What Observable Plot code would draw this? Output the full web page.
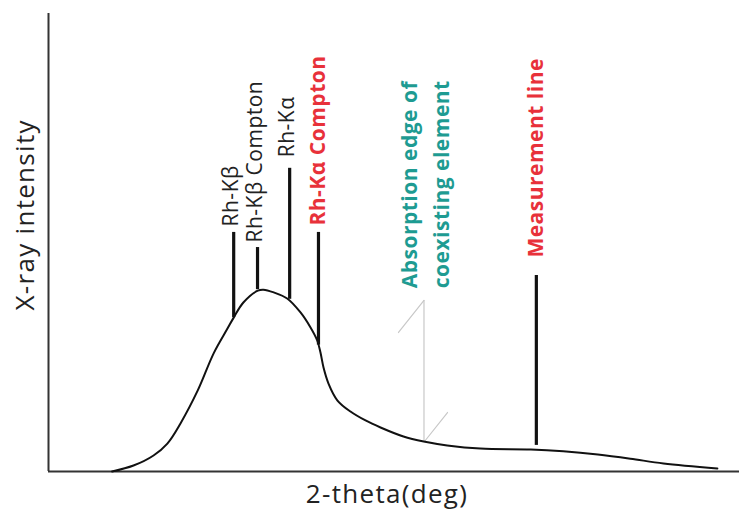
<!DOCTYPE html>
<html>
<head>
<meta charset="utf-8">
<script src="https://cdn.jsdelivr.net/npm/d3@7"></script>
<script src="https://cdn.jsdelivr.net/npm/@observablehq/plot@0.6"></script>
<style>
  html, body { margin: 0; padding: 0; background: #fff; }
  #chart svg { display: block; }
</style>
</head>
<body>
<div id="chart"></div>
<script>
// Background spectrum (2θ in arbitrary units, intensity in arbitrary units)
const curveTheta = [9.2, 12.3, 15.2, 17.2, 19.1, 21.6, 23.9, 25.9, 26.8, 28.2, 30.3, 31.1, 32.6, 34.54, 36.47, 37.92, 38.89, 39.36, 39.8, 40.52, 41.82, 43.7, 45.88, 48.05, 51.37, 54.3, 57.7, 62.5, 69.8, 74.5, 79.5, 84.2, 89.0, 96.8];
const curveIntensity = [0, 1.3, 3.5, 6.1, 10.5, 17.7, 25.8, 31.2, 33.6, 36.9, 39.5, 39.7, 39.1, 37.77, 34.72, 31.44, 28.6, 25.98, 22.71, 19.21, 15.5, 13.1, 11.14, 9.61, 7.64, 6.55, 5.7, 5.0, 4.8, 4.4, 3.7, 2.8, 1.75, 0.66];

// Peak lines
const peakNames = ["Rh-Kβ", "Rh-Kβ Compton", "Rh-Kα", "Rh-Kα Compton", "Measurement line"];
const peakTheta = [26.8, 30.25, 34.9, 39.07, 70.6];
const peakBase = [33.6, 39.7, 37.6, 27.6, 5.7];
const peakTop = [52.2, 48.9, 66.2, 52.2, 42.8];
const labelBase = [53.5, 50.0, 68.6, 53.7, 46.7];
const labelKind = ["plain", "plain", "plain", "highlight", "highlight"];

// Absorption edge
const edgeTheta = [54.34];
const edgeLow = [6.55];
const edgeHigh = [37.34];
const edgeTickA = [[50.65, 30.35], [54.34, 37.34]];
const edgeTickB = [[54.41, 6.55], [57.74, 12.88]];
const edgeLabels = ["Absorption edge of", "coexisting element"];
const edgeLabelTheta = [52.4, 57.0];
const edgeLabelBase = [40.0, 40.0];

const curve = curveTheta.map((x, i) => ({x, y: curveIntensity[i]}));
const peaks = peakNames.map((name, i) => ({name, x: peakTheta[i], y1: peakBase[i], y2: peakTop[i], ly: labelBase[i], kind: labelKind[i]}));
const edgeText = edgeLabels.map((t, i) => ({t, x: edgeLabelTheta[i], y: edgeLabelBase[i]}));

const font = "'Open Sans', 'DejaVu Sans', sans-serif";

const chart = Plot.plot({
  width: 739,
  height: 516,
  marginLeft: 48,
  marginRight: 0,
  marginTop: 13,
  marginBottom: 45,
  style: {fontFamily: font, background: "#fff"},
  x: {domain: [0, 100], axis: null},
  y: {domain: [0, 100], axis: null},
  marks: [
    // axes
    Plot.ruleX([0], {stroke: "#333", strokeWidth: 2}),
    Plot.ruleY([0], {stroke: "#333", strokeWidth: 2}),
    // absorption edge
    Plot.ruleX(edgeTheta, {y1: edgeLow, y2: edgeHigh, stroke: "#c8c8c8", strokeWidth: 1.2}),
    Plot.line(edgeTickA, {stroke: "#c8c8c8", strokeWidth: 1.2}),
    Plot.line(edgeTickB, {stroke: "#c8c8c8", strokeWidth: 1.2}),
    // spectrum
    Plot.line(curve, {x: "x", y: "y", curve: "catmull-rom", stroke: "#111", strokeWidth: 2}),
    // peaks
    Plot.ruleX(peaks, {x: "x", y1: "y1", y2: "y2", stroke: "#111", strokeWidth: 3.2}),
    Plot.text(peaks.filter(d => d.kind === "plain"), {x: "x", y: "ly", text: "name", rotate: -90, textAnchor: "start", lineAnchor: "middle", dx: -2, fontSize: 21, fill: "#222"}),
    Plot.text(peaks.filter(d => d.kind === "highlight"), {x: "x", y: "ly", text: "name", rotate: -90, textAnchor: "start", lineAnchor: "middle", fontSize: 21, fontWeight: "bold", fill: "#e8313a"}),
    Plot.text(edgeText, {x: "x", y: "y", text: "t", rotate: -90, textAnchor: "start", lineAnchor: "middle", fontSize: 21, fontWeight: "bold", fill: "#1e9b92"}),
    // axis titles
    Plot.text(["X-ray intensity"], {frameAnchor: "left", rotate: -90, textAnchor: "start", lineAnchor: "middle", dx: -23, dy: 68, fontSize: 26, fill: "#222"}),
    Plot.text(["2-theta(deg)"], {frameAnchor: "bottom", textAnchor: "middle", lineAnchor: "middle", dx: -7, dy: 23, fontSize: 26, fill: "#222"})
  ]
});
d3.select(chart).selectAll("text").each(function() {
  const t = this.textContent;
  d3.select(this).attr("letter-spacing", (t === "X-ray intensity" || t === "2-theta(deg)") ? 1.3 : 0.5);
});
document.getElementById("chart").appendChild(chart);
</script>
</body>
</html>
